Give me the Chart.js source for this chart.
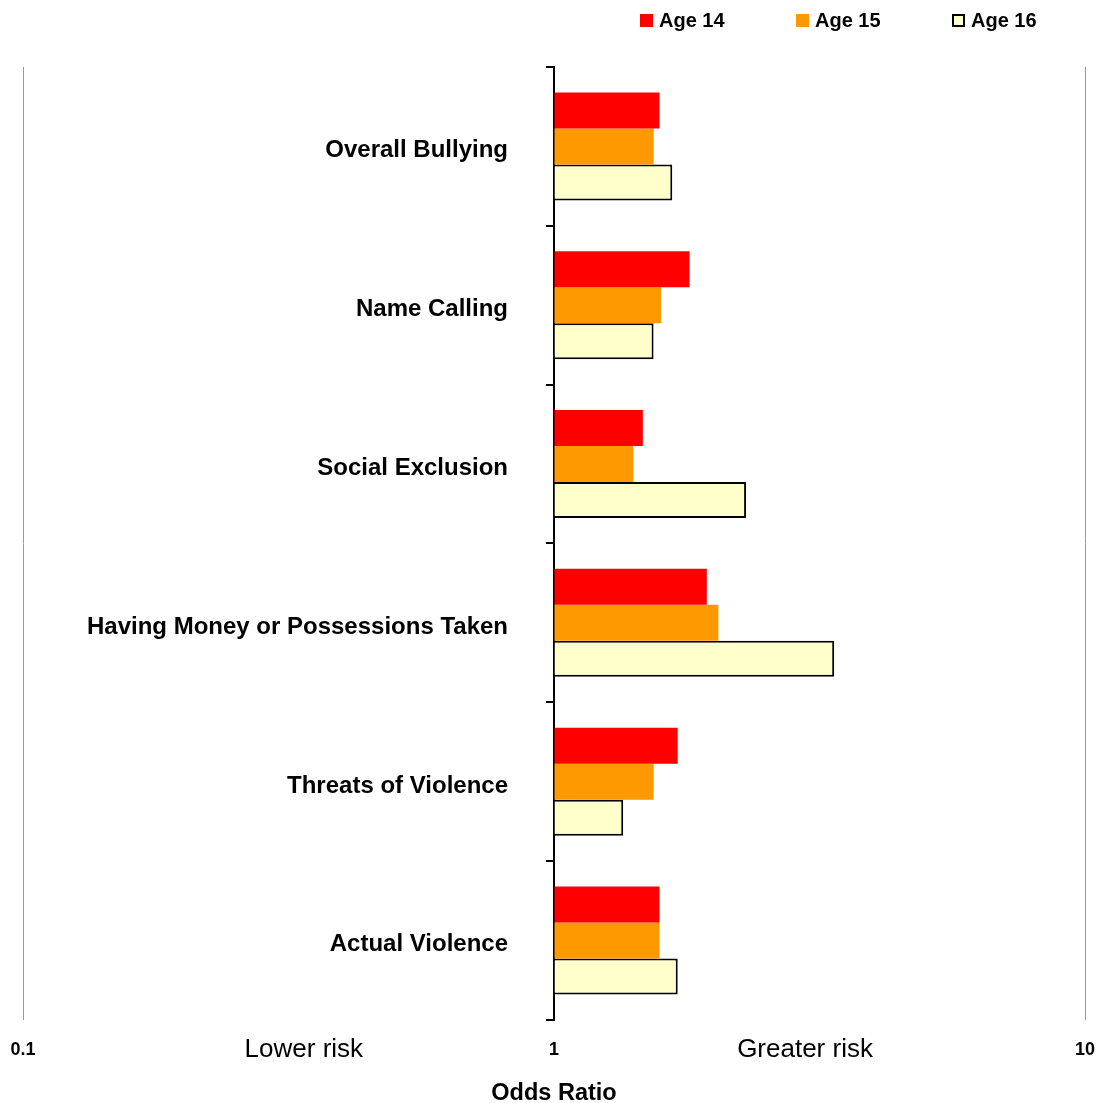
<!DOCTYPE html>
<html>
<head>
<meta charset="utf-8">
<title>Odds Ratio by Age</title>
<script src="https://cdn.jsdelivr.net/npm/chart.js@4/dist/chart.umd.min.js"></script>
<style>
  html, body { margin: 0; padding: 0; background: #ffffff; }
  canvas { display: block; }
</style>
</head>
<body>
<canvas id="chart" width="1104" height="1103"></canvas>
<script>
// Categories of bullying
const categories = [
  'Overall Bullying',
  'Name Calling',
  'Social Exclusion',
  'Having Money or Possessions Taken',
  'Threats of Violence',
  'Actual Violence'
];

// Odds ratios per age group
const age14 = [1.58, 1.80, 1.47, 1.94, 1.71, 1.58];
const age15 = [1.54, 1.59, 1.41, 2.04, 1.54, 1.58];
const age16 = [1.67, 1.54, 2.30, 3.37, 1.35, 1.71];

const seriesLabels = ['Age 14', 'Age 15', 'Age 16'];

// x-axis tick values and side captions
const xTicks = [0.1, 1, 10];
const riskCaptions = [
  { text: 'Lower risk', value: 0.338 },
  { text: 'Greater risk', value: 2.97 }
];

const FONT = '"Liberation Sans", Arial, Helvetica, sans-serif';

// Category names drawn to the left of the OR = 1 axis
const categoryLabels = {
  id: 'categoryLabels',
  afterDraw(chart) {
    const { ctx, scales: { x, y } } = chart;
    const right = x.getPixelForValue(1) - 46;
    ctx.save();
    ctx.font = 'bold 24px ' + FONT;
    ctx.fillStyle = '#000';
    ctx.textAlign = 'right';
    ctx.textBaseline = 'alphabetic';
    chart.data.labels.forEach((label, i) => {
      ctx.fillText(label, right, y.getPixelForValue(i) + 11);
    });
    ctx.restore();
  }
};

// "Lower risk" / "Greater risk" captions under the axis
const riskText = {
  id: 'riskText',
  afterDraw(chart) {
    const { ctx, scales: { x } } = chart;
    ctx.save();
    ctx.font = '26px ' + FONT;
    ctx.fillStyle = '#000';
    ctx.textAlign = 'center';
    ctx.textBaseline = 'alphabetic';
    riskCaptions.forEach(c => {
      ctx.fillText(c.text, x.getPixelForValue(c.value), 1057);
    });
    ctx.restore();
  }
};

// Legend in the top-right corner
const ageLegend = {
  id: 'ageLegend',
  afterDraw(chart) {
    const ctx = chart.ctx;
    ctx.save();
    ctx.font = 'bold 20px ' + FONT;
    ctx.textAlign = 'left';
    ctx.textBaseline = 'alphabetic';
    chart.data.datasets.forEach((ds, i) => {
      const bx = 640 + i * 156;
      const by = 14;
      ctx.fillStyle = ds.backgroundColor;
      ctx.fillRect(bx, by, 13, 13);
      if (ds.borderWidth) {
        ctx.lineWidth = 2;
        ctx.strokeStyle = ds.borderColor;
        ctx.strokeRect(bx + 1, by + 1, 11, 11);
      }
      ctx.fillStyle = '#000';
      ctx.fillText(ds.label, bx + 19, 27);
    });
    ctx.restore();
  }
};

new Chart(document.getElementById('chart'), {
  type: 'bar',
  data: {
    labels: categories,
    datasets: [
      { label: seriesLabels[0], data: age14, backgroundColor: '#FF0000', borderWidth: 0, base: 1 },
      { label: seriesLabels[1], data: age15, backgroundColor: '#FF9900', borderWidth: 0, base: 1 },
      { label: seriesLabels[2], data: age16, backgroundColor: '#FFFFCC', borderColor: '#000000', borderWidth: 2, base: 1 }
    ]
  },
  options: {
    indexAxis: 'y',
    responsive: false,
    animation: false,
    layout: { padding: { top: 67, left: 23, right: 19, bottom: 0 } },
    datasets: {
      bar: { categoryPercentage: 0.68, barPercentage: 1.0 }
    },
    plugins: {
      legend: { display: false },
      tooltip: { enabled: false }
    },
    scales: {
      x: {
        type: 'logarithmic',
        min: 0.1,
        max: 10,
        afterBuildTicks(scale) {
          scale.ticks = xTicks.map(v => ({ value: v }));
        },
        border: { display: false },
        grid: {
          drawTicks: true,
          tickLength: 19,
          tickColor: 'rgba(0,0,0,0)',
          lineWidth: 1,
          color: ctx => (ctx.tick && ctx.tick.value === 1) ? 'rgba(0,0,0,0)' : '#9a9a9a'
        },
        ticks: {
          padding: 0,
          color: '#000',
          font: { family: FONT, size: 18, weight: 'bold' },
          callback: v => String(v)
        },
        title: {
          display: true,
          text: 'Odds Ratio',
          color: '#000',
          padding: { top: 21, bottom: -2 },
          font: { family: FONT, size: 23.5, weight: 'bold', lineHeight: 1 }
        }
      },
      y: {
        type: 'category',
        position: { x: 1 },
        offset: true,
        border: { display: true, color: '#000', width: 2 },
        grid: {
          offset: true,
          drawOnChartArea: false,
          drawTicks: true,
          tickLength: 7,
          color: '#000',
          lineWidth: 2
        },
        ticks: { display: false }
      }
    }
  },
  plugins: [categoryLabels, riskText, ageLegend]
});
</script>
</body>
</html>
